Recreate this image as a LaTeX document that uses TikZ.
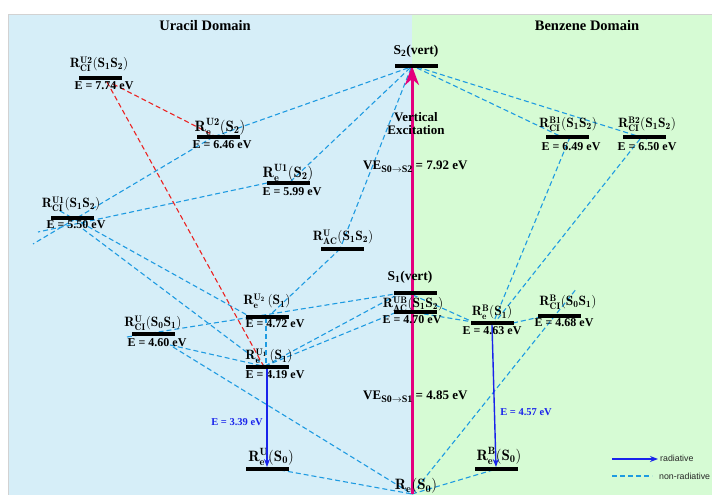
\RequirePackage{fix-cm}
\documentclass[tikz,border=0pt]{standalone}
\usepackage{fontspec}
\newfontfamily\tnr{Liberation Serif}
\newfontfamily\lsans{Liberation Sans}
\usetikzlibrary{arrows.meta,calc}
\pgfdeclarelayer{back}
\pgfdeclarelayer{mid}
\pgfsetlayers{back,mid,main}
\definecolor{bgblue}{RGB}{214,238,248}
\definecolor{bggreen}{RGB}{214,251,212}
\definecolor{dashblue}{RGB}{30,155,225}
\definecolor{dashred}{RGB}{235,35,35}
\definecolor{vexmag}{RGB}{228,0,124}
\definecolor{radblue}{RGB}{25,35,235}
\begin{document}
\begin{tikzpicture}[x=1pt,y=-1pt,
  bar/.style={fill=black,minimum width=43pt,minimum height=4pt,inner sep=0pt,outer sep=0pt},
  rlab/.style={inner sep=0pt,font=\fontsize{13.5}{15}\selectfont},
  rbig/.style={inner sep=0pt,font=\fontsize{15}{17}\selectfont},
  elab/.style={inner sep=0pt,font=\tnr\bfseries\fontsize{12}{14}\selectfont},
  tlab/.style={inner sep=0pt,font=\tnr\bfseries\fontsize{13}{13}\selectfont},
  vtitle/.style={inner sep=0pt,font=\tnr\bfseries\fontsize{14.5}{16}\selectfont},
  radlab/.style={inner sep=0pt,text=radblue,font=\tnr\bfseries\fontsize{10.5}{12}\selectfont},
  leg/.style={inner sep=0pt,anchor=west,text=black!85,font=\lsans\fontsize{8.8}{10}\selectfont},
  nr/.style={draw=dashblue,line width=1.1pt,dash pattern=on 5pt off 3pt},
  nrred/.style={nr,draw=dashred},
  rad/.style={draw=radblue,line width=1.4pt,-{Stealth[length=8pt,width=6pt]}},
  vex/.style={draw=vexmag,line width=3pt,-{Stealth[length=19pt,width=14pt,inset=6pt]}}
]
\useasboundingbox (0,0) rectangle (712,495);
\begin{pgfonlayer}{back}
\fill[bgblue] (8,14) rectangle (412,495);
\fill[bggreen] (412,14) rectangle (712,495);
\draw[gray!35,line width=0.8pt] (8,495) -- (8,14) -- (712,14);
\end{pgfonlayer}

% titles
\node[vtitle] (tu) at (205,26) {Uracil Domain};
\node[vtitle] (tb) at (587,26) {Benzene Domain};

% bars
\node[bar] (ciu2) at (100,78) {};
\node[bar] (eu2s2) at (218,137) {};
\node[bar] (eu1s2) at (288,183) {};
\node[bar] (ciu1) at (72,218) {};
\node[bar] (acu) at (342,249) {};
\node[bar] (s2v) at (416,66) {};
\node[bar] (s1v) at (415,293) {};
\node[bar] (acub) at (415,312) {};
\node[bar] (eu2s1) at (267,317) {};
\node[bar] (eu1s1) at (267,367) {};
\node[bar] (ciu) at (153,334) {};
\node[bar] (eus0) at (267,469) {};
\node[bar] (ebs1) at (492,323) {};
\node[bar] (cibs) at (559,316) {};
\node[bar] (cib1) at (567,137) {};
\node[bar] (cib2) at (644,137) {};
\node[bar] (ebs0) at (496,469) {};
\coordinate (re) at (412,494);
\coordinate (x1) at (33,244);
\coordinate (x2) at (38,232);
\coordinate (x3) at (577,288);

% labels
\node[rlab] (lciu2) at (99,64) {$\mathbf{R^{U2}_{CI}(S_1S_2)}$};
\node[elab] (eciu2) at (104,86) {E = 7.74 eV};
\node[rbig] (leu2s2) at (220,127) {$\mathbf{R^{U2}_{e}(S_2)}$};
\node[elab] (eeu2s2) at (222,145) {E = 6.46 eV};
\node[rbig] (leu1s2) at (288,173) {$\mathbf{R^{U1}_{e}(S_2)}$};
\node[elab] (eeu1s2) at (292,192) {E = 5.99 eV};
\node[rlab] (lciu1) at (71,204) {$\mathbf{R^{U1}_{CI}(S_1S_2)}$};
\node[elab] (eciu1) at (76,225) {E = 5.50 eV};
\node[rlab] (lacu) at (343,237) {$\mathbf{R^{U}_{AC}(S_1S_2)}$};
\node[tlab,font=\tnr\bfseries\fontsize{13.5}{14}\selectfont] (ls2v) at (416,51) {S\textsubscript{2}(vert)};
\node[tlab,font=\tnr\bfseries\fontsize{13.5}{14}\selectfont] (ls1v) at (410,277) {S\textsubscript{1}(vert)};
\node[rlab] (lacub) at (413,304) {$\mathbf{R^{UB}_{AC}(S_1S_2)}$};
\node[elab] (eacub) at (412,320) {E = 4.70 eV};
\node[rlab] (leu2s1) at (267,301) {$\mathbf{R^{U_2}_{e}\,(S_1)}$};
\node[elab] (eeu2s1) at (275,324) {E = 4.72 eV};
\node[rlab] (leu1s1) at (269,356) {$\mathbf{R^{U_1}_{e}\,(S_1)}$};
\node[elab] (eeu1s1) at (275,375) {E = 4.19 eV};
\node[rlab] (lciu) at (153,323) {$\mathbf{R^{U}_{CI}(S_0S_1)}$};
\node[elab] (eciu) at (157,343) {E = 4.60 eV};
\node[rbig] (leus0) at (271,457) {$\mathbf{R^{U}_{e}(S_0)}$};
\node[rlab] (lebs1) at (492,312) {$\mathbf{R^{B}_{e}(S_1)}$};
\node[elab] (eebs1) at (492,331) {E = 4.63 eV};
\node[rlab] (lcibs) at (568,302) {$\mathbf{R^{B}_{CI}(S_0S_1)}$};
\node[elab] (ecibs) at (564,323) {E = 4.68 eV};
\node[rlab] (lcib1) at (568,124) {$\mathbf{R^{B1}_{CI}(S_1S_2)}$};
\node[elab] (ecib1) at (571,147) {E = 6.49 eV};
\node[rlab] (lcib2) at (647,124) {$\mathbf{R^{B2}_{CI}(S_1S_2)}$};
\node[elab] (ecib2) at (647,147) {E = 6.50 eV};
\node[rbig] (lebs0) at (499,456) {$\mathbf{R^{B}_{e}(S_0)}$};
\node[rbig] (lre) at (416,486) {$\mathbf{R_{e}(S_0)}$};

\node[tlab,align=center] (vexl) at (416,124) {Vertical\\Excitation};
\node[tlab,anchor=west] (ve2) at (363,167) {VE\raisebox{-3pt}{\fontsize{10}{10}\selectfont S0$\rightarrow$S2} = 7.92 eV};
\node[tlab,anchor=west] (ve1) at (363,397) {VE\raisebox{-3pt}{\fontsize{10}{10}\selectfont S0$\rightarrow$S1} = 4.85 eV};
\node[radlab] (r1) at (237,422) {E = 3.39 eV};
\node[radlab] (r2) at (526,412) {E = 4.57 eV};

% legend
\coordinate (lga) at (612,459);
\coordinate (lgb) at (658,459);
\coordinate (lgc) at (612,476);
\coordinate (lgd) at (652,476);
\node[leg] (lgt1) at (660,458) {radiative};
\node[leg] (lgt2) at (659,476) {non-radiative};

% non-radiative connectors
\begin{pgfonlayer}{mid}
\draw[nr] ($(s2v)+(-8,2)$) -- ($(eu2s2)+(-5,0)$);
\draw[nr] ($(eu2s2)+(-5,0)$) -- (x1);
\draw[nr] ($(s2v)+(-6,2)$) -- ($(eu1s2)+(2,-1)$);
\draw[nr] ($(eu1s2)+(-21,0)$) -- (x2);
\draw[nr] ($(s2v)+(-5,2)$) -- ($(acu)+(-2,0)$);
\draw[nr] ($(acu)+(-2,0)$) -- ($(eu2s1)+(3,-2)$);
\draw[nr] ($(s2v)+(1,2)$) -- ($(cib1)+(-5,0)$);
\draw[nr] ($(s2v)+(1,1)$) -- ($(cib2)+(3,2)$);
\draw[nr] ($(cib1)+(3,0)$) -- ($(ebs1)+(2,-2)$);
\draw[nr] ($(cib2)+(-4,2)$) -- ($(ebs1)+(4,-2)$);
\draw[nr] ($(ciu1)+(-12,-7)$) -- ($(eu2s1)+(-20,-2)$);
\draw[nr] ($(ciu1)+(11,11)$) -- ($(eu1s1)+(-2,-1)$);
\draw[nr] ($(ciu)+(-26,3)$) -- ($(s1v)+(-20,1)$);
\draw[nr] ($(ciu)+(17,11)$) -- ($(eu1s1)+(-4,-1)$);
\draw[nr] ($(ciu)+(20,13)$) -- (re);
\draw[nr] ($(eu2s1)+(-1,1)$) -- ($(eu1s1)+(-1,-1)$);
\draw[nr] ($(eu1s1)+(-2,-1)$) -- ($(s1v)+(-20,3)$);
\draw[nr] ($(eu1s1)+(-2,-1)$) -- ($(acub)+(-18,0)$);
\draw[nr] ($(s1v)+(-2,2)$) -- ($(ebs1)+(-19,-1)$);
\draw[nr] ($(acub)+(-15,-2)$) -- ($(ebs1)+(-19,-1)$);
\draw[nr] ($(ebs1)+(21,0)$) -- ($(cibs)+(-19,1)$);
\draw[nr] (re) -- (x3);
\draw[nr] (re) -- ($(ebs0)+(-3,1)$);
\draw[nr] ($(eus0)+(13,1)$) -- (re);
\draw[nrred] ($(ciu2)+(13,6)$) -- ($(eu2s2)+(-5,-2)$);
\draw[nrred] ($(ciu2)+(7,4)$) -- ($(eu1s1)+(-4,-2)$);
\draw[nr] (lgc) -- (lgd);
\draw[vex] (re) -- (re |- s2v.center);
\end{pgfonlayer}

% radiative
\draw[rad] (eu1s1.south) -- (eus0.north);
\draw[rad] (ebs1.south) -- (ebs0.north);
\draw[rad] (lga) -- (lgb);
\end{tikzpicture}
\end{document}
